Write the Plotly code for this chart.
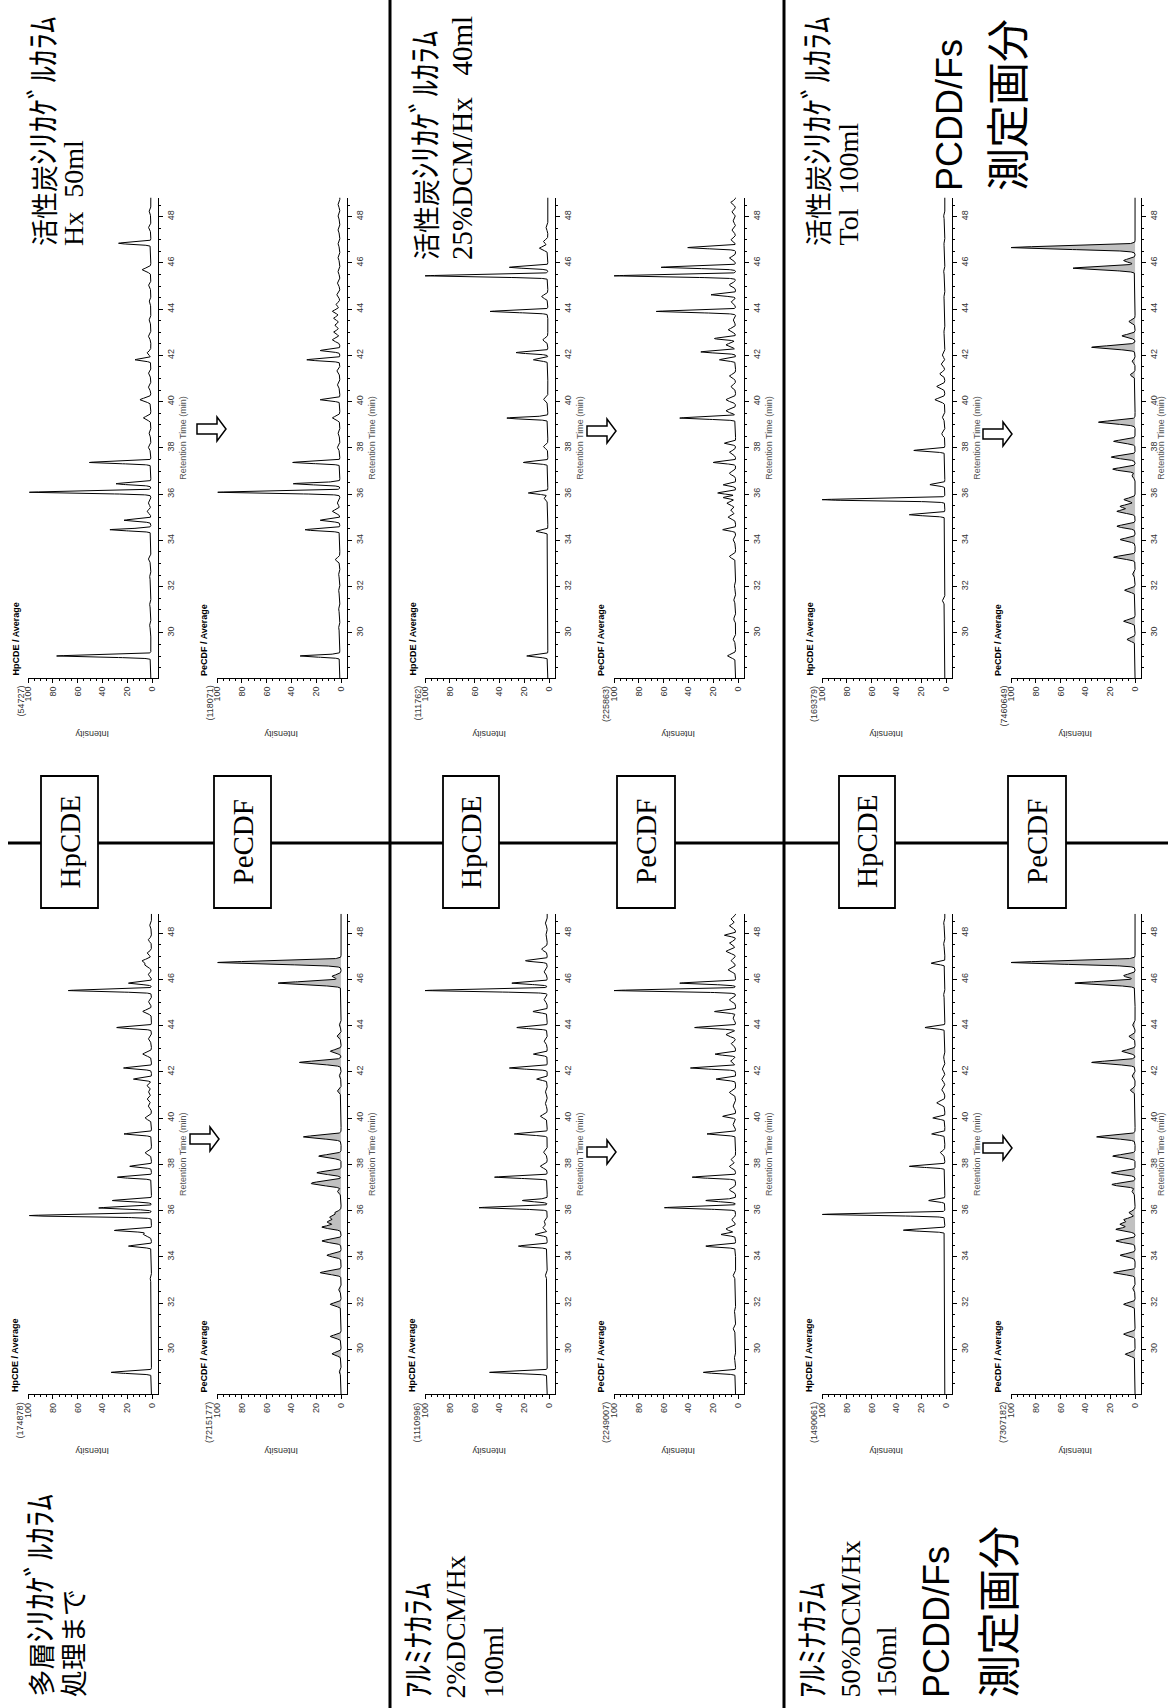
import numpy as np
import plotly.graph_objects as go

W, H = 1168, 1708

# ---------------- data ----------------
T_RANGE = [28.05, 48.83]      # retention time (min)
I_RANGE = [100, -4.8]         # relative intensity (%), reversed

# Panel A: 多層シリカゲル処理まで  HpCDE
A_T = [29.0, 33.02, 34.46, 34.96, 35.14, 35.78, 36.11, 36.43, 37.44, 37.91, 38.49, 39.31, 40.0, 40.5, 40.8,
       41.1, 41.4, 41.68, 42.16, 42.76, 43.4, 43.91, 44.6, 45.0, 45.51, 45.83, 46.2, 46.59, 46.79, 47.12, 47.7, 48.3]
A_H = [33, 1.6, 19, 7, 30, 99, 43, 32, 28, 18, 5.6, 22.6, 5.6, 3, 4,
       3, 4, 15, 23, 7.5, 3, 28.5, 7.5, 3, 67.5, 19, 3, 5.6, 8, 4, 3, 2]
# Panel B: 多層シリカゲル処理まで  PeCDF
B_T = [29.0, 29.8, 30.55, 31.94, 32.55, 33.31, 34.06, 34.68, 35.28, 35.5, 35.7, 35.9, 36.8, 37.12, 37.22,
       37.63, 38.35, 39.18, 41.15, 41.8, 42.4, 42.88, 43.52, 44.0, 45.83, 46.12, 46.72]
B_H = [1.5, 7.3, 8.7, 8.7, 2, 16.8, 11.4, 15.4, 15.4, 11, 9, 5, 3, 15, 16,
       19.5, 18, 30.4, 3, 1.5, 33.6, 8.7, 3.3, 1.5, 50.7, 7.3, 99.5]
# Panel C: アルミナ 2%DCM/Hx  HpCDE
C_T = [29.0, 30.9, 33.17, 34.46, 34.96, 35.25, 35.5, 36.12, 36.43, 37.44, 37.91, 38.5, 39.31, 40.07, 40.6,
       41.1, 41.68, 42.16, 42.76, 43.3, 43.91, 44.6, 45.1, 45.51, 45.83, 46.3, 46.8, 47.3, 47.9, 48.4]
C_H = [48, 1.5, 3, 24.7, 11.3, 5, 4, 56.5, 21.5, 44, 7, 4.5, 28, 7, 3,
       3, 10, 32, 12.6, 4, 26, 13, 4, 100, 30, 4, 19, 6, 2.5, 3]
# Panel D: アルミナ 2%DCM/Hx  PeCDF
D_T = [29.0, 29.6, 30.86, 31.6, 33.17, 34.46, 34.96, 35.2, 35.6, 36.12, 36.43, 36.9, 37.44, 37.9, 38.2,
       39.31, 39.7, 40.07, 40.5, 41.1, 41.68, 42.16, 42.45, 42.76, 43.2, 43.6, 43.91, 44.3, 44.6, 45.1,
       45.51, 45.83, 46.4, 46.8, 47.2, 47.55, 47.9, 48.3, 48.6]
D_H = [28, 3, 4, 3, 4, 26, 13.7, 9.7, 5, 59.4, 26, 7, 37, 7, 5.6,
       25, 4, 12.4, 4, 7, 17.7, 38.4, 6, 18.5, 5.6, 9.7, 35, 4, 19, 7,
       100, 47, 8, 5.6, 9.7, 7, 11, 7, 5.6]
# Panel E: アルミナ 50%DCM/Hx  HpCDE
E_T = [31.4, 35.15, 35.83, 36.43, 37.91, 38.49, 39.31, 40.0, 40.65, 41.2, 41.65, 42.1, 42.6, 43.91, 45.3,
       46.69, 47.5, 48.4]
E_H = [1.5, 34.4, 99.7, 14, 29.6, 4.8, 11.6, 10.7, 7.5, 3.5, 3.5, 3, 2, 17, 2,
       12, 2, 2]
# Panel F: アルミナ 50%DCM/Hx  PeCDF
F_T = [29.78, 30.65, 31.94, 32.6, 33.31, 34.06, 34.68, 35.18, 35.4, 35.6, 35.9, 36.8, 37.12, 37.63, 38.35,
       39.18, 41.2, 41.8, 42.4, 42.88, 43.52, 44.0, 45.83, 46.15, 46.72]
F_H = [7.9, 9.2, 9.2, 2, 17.3, 12, 15.4, 15.4, 12, 9, 5, 2.5, 18.7, 19, 18,
       31, 3.8, 2.4, 35, 10.6, 5, 2, 48.5, 9.2, 100]
# Panel G: 活性炭 Hx 50ml  HpCDE
G_T = [29.0, 30.3, 31.2, 32.4, 33.17, 34.46, 34.87, 35.25, 35.6, 36.08, 36.45, 37.37, 38.0, 38.6, 39.29,
       40.08, 40.6, 41.2, 41.81, 42.1, 42.8, 43.5, 44.3, 45.0, 45.7, 46.85, 47.5, 48.2]
G_H = [77, 2, 2, 2, 3, 34, 22.6, 4, 3, 99, 29, 50.5, 3, 2.5, 7,
       9.7, 3, 3, 13.7, 4, 3, 2.5, 2.5, 3, 8, 27, 3, 2.5]
# Panel H: 活性炭 Hx 50ml  PeCDF
H_T = [29.0, 30.2, 31.0, 31.8, 32.5, 33.17, 34.46, 34.87, 35.25, 35.6, 36.08, 36.45, 37.37, 38.0, 38.6,
       39.29, 40.08, 40.7, 41.3, 41.81, 42.21, 42.67, 43.0, 43.3, 43.6, 43.9, 44.2, 44.6, 45.1, 45.6,
       46.2, 46.8, 47.4, 48.0, 48.5]
H_H = [33, 2, 2, 2, 2, 4.6, 29, 16.8, 7, 3, 99.5, 38.5, 39, 3, 2.5,
       7, 16.8, 3, 3.5, 27.6, 16.8, 7, 6, 5, 6, 7, 4, 3.5, 3, 2.5,
       2.5, 2.5, 2.5, 2.5, 2.5]
# Panel I: 活性炭 25%DCM/Hx 40ml  HpCDE
I_T = [29.0, 34.39, 35.8, 36.05, 37.37, 38.05, 39.29, 40.08, 41.81, 42.12, 42.67, 43.9, 44.54, 45.44, 45.81,
       46.63, 46.92, 47.5]
I_H = [18, 10.5, 4, 16.7, 20.7, 4.5, 34, 4.5, 12.6, 26.6, 5, 47.6, 6, 100, 32,
       7.8, 4.5, 2.5]
# Panel J: 活性炭 25%DCM/Hx 40ml  PeCDF
J_T = [29.0, 29.7, 30.6, 31.4, 32.0, 33.3, 34.0, 34.46, 35.0, 35.3, 35.6, 35.85, 36.05, 36.4, 36.9,
       37.37, 37.8, 38.2, 39.29, 39.6, 40.08, 40.65, 41.1, 41.81, 42.15, 42.45, 42.73, 43.1, 43.5, 43.9,
       44.3, 44.62, 45.05, 45.44, 45.81, 46.2, 46.66, 47.0, 47.4, 47.8, 48.2, 48.6]
J_H = [8.5, 4, 3.5, 3.5, 3, 7, 4, 12.4, 8, 6, 9, 12, 16.4, 12, 7,
       20, 7, 11, 47, 9.7, 9.7, 5.6, 7, 15, 30, 9.7, 19, 8, 4, 66,
       5.6, 21.8, 7, 100, 62, 7, 40.6, 5.6, 5, 4, 5, 6]
# Panel K: 活性炭 Tol 100ml  HpCDE
K_T = [31.37, 35.11, 35.76, 36.41, 37.89, 38.6, 39.3, 40.08, 40.65, 41.2, 41.6, 42.0, 43.0, 44.5, 45.6,
       46.8, 48.0]
K_H = [3, 29.6, 100, 13, 26, 3.5, 3, 9, 7.5, 5, 4, 3, 1.8, 1.8, 2,
       1.8, 2]
# Panel L: 活性炭 Tol 100ml  PeCDF
L_T = [29.71, 30.5, 31.84, 32.52, 33.27, 34.03, 34.61, 35.25, 35.47, 35.76, 36.77, 37.08, 37.6, 38.28, 39.11,
       41.16, 41.74, 42.35, 42.84, 43.46, 45.77, 46.1, 46.66]
L_H = [6.5, 9.2, 8.4, 2, 17.3, 12, 14.6, 14.6, 12, 9, 2.5, 18, 19.2, 17.3, 29.5,
       3.8, 2.4, 35, 10.6, 5, 50, 9.2, 100]

# baseline level of each trace (%)
BASES = {'A': 0.5, 'B': 0.0, 'C': 1.5, 'D': 2.0, 'E': 1.0, 'F': 0.0,
         'G': 1.0, 'H': 1.0, 'I': 1.0, 'J': 2.0, 'K': 1.0, 'L': 0.0}
# full-scale counts shown beside each intensity axis
SCALES = {'A': '(174878)', 'B': '(7215177)', 'C': '(1110996)', 'D': '(2249007)',
          'E': '(1490061)', 'F': '(7307182)', 'G': '(54727)', 'H': '(118071)',
          'I': '(111762)', 'J': '(225863)', 'K': '(169379)', 'L': '(7460649)'}
PEAKS = {'A': (A_T, A_H), 'B': (B_T, B_H), 'C': (C_T, C_H), 'D': (D_T, D_H),
         'E': (E_T, E_H), 'F': (F_T, F_H), 'G': (G_T, G_H), 'H': (H_T, H_H),
         'I': (I_T, I_H), 'J': (J_T, J_H), 'K': (K_T, K_H), 'L': (L_T, L_H)}

# ---------------- layout ----------------
HP_AX = [158, 555, 952]       # x pixel of the time axis of the HpCDE panel in each column
PE_OFF = 189
ROWS = {'top': (197.5, 678.0), 'bot': (913.8, 1394.4)}
# (key, compound, row, column)
PANELS = [('A', 'HpCDE', 'bot', 0), ('B', 'PeCDF', 'bot', 0),
          ('C', 'HpCDE', 'bot', 1), ('D', 'PeCDF', 'bot', 1),
          ('E', 'HpCDE', 'bot', 2), ('F', 'PeCDF', 'bot', 2),
          ('G', 'HpCDE', 'top', 0), ('H', 'PeCDF', 'top', 0),
          ('I', 'HpCDE', 'top', 1), ('J', 'PeCDF', 'top', 1),
          ('K', 'HpCDE', 'top', 2), ('L', 'PeCDF', 'top', 2)]
FILLED = {'B', 'F', 'L'}

SANS = 'Liberation Sans, Arial, sans-serif'
SERIF = 'Liberation Serif, Times New Roman, serif'
CJK = 'Noto Sans CJK JP, sans-serif'


def fx(x):
    return x / W


def fy(y):
    return 1 - y / H


tgrid = np.arange(T_RANGE[0], T_RANGE[1] + 1e-9, 0.004)


def signal(ts, hs, base, wide):
    y = np.full_like(tgrid, base, dtype=float)
    for t0, h0 in zip(ts, hs):
        amp = max(h0 - base, 0.3)
        if wide:
            s = 0.07
        else:
            s = 0.045 if h0 >= 10 else 0.075
        y += amp * np.exp(-0.5 * ((tgrid - t0) / s) ** 2)
    return y


fig = go.Figure()
annotations = []
layout_axes = {}

for i, (key, comp, row, col) in enumerate(PANELS, 1):
    ax = HP_AX[col] + (PE_OFF if comp == 'PeCDF' else 0)
    yt, yb = ROWS[row]
    sfx = '' if i == 1 else str(i)
    ts, hs = PEAKS[key]
    filled = key in FILLED
    sig = signal(ts, hs, BASES[key], filled)
    fig.add_trace(go.Scatter(
        x=sig, y=tgrid, xaxis='x' + sfx, yaxis='y' + sfx, mode='lines',
        line=dict(color='black', width=1),
        fill='tozerox' if filled else None,
        fillcolor='rgba(140,140,140,0.55)',
        hoverinfo='skip', showlegend=False))
    layout_axes['xaxis' + sfx] = dict(
        domain=[fx(ax - 130), fx(ax)], anchor='y' + sfx, range=I_RANGE,
        showline=True, linecolor='black', linewidth=1, mirror=False,
        ticks='outside', ticklen=4, tickwidth=1, tickcolor='black',
        tickmode='linear', tick0=0, dtick=20,
        minor=dict(dtick=5, ticks='outside', ticklen=2, tickcolor='black', showgrid=False),
        tickangle=-90, tickfont=dict(family=SANS, size=9, color='#333'),
        showgrid=False, zeroline=False, fixedrange=True, automargin=False)
    layout_axes['yaxis' + sfx] = dict(
        domain=[fy(yb), fy(yt)], anchor='x' + sfx, side='right', range=T_RANGE,
        showline=True, linecolor='black', linewidth=1,
        ticks='outside', ticklen=4, tickwidth=1, tickcolor='black',
        tickmode='linear', tick0=30, dtick=2,
        minor=dict(dtick=0.5, ticks='outside', ticklen=2, tickcolor='black', showgrid=False),
        tickangle=-90, tickfont=dict(family=SANS, size=9, color='#333'),
        showgrid=False, zeroline=False, fixedrange=True, automargin=False)

    # panel texts
    annotations.append(dict(text='<b>%s / Average</b>' % comp, x=fx(ax - 143), y=fy(yb),
                            xanchor='center', yanchor='bottom', textangle=-90,
                            font=dict(family=SANS, size=9, color='black')))
    annotations.append(dict(text=SCALES[key], x=fx(ax - 138), y=fy(yb + 6),
                            xanchor='center', yanchor='top', textangle=-90,
                            font=dict(family=SANS, size=9, color='#333')))
    annotations.append(dict(text='Intensity', x=fx(ax - 66), y=fy(yb + 56),
                            xanchor='center', yanchor='middle', textangle=180,
                            font=dict(family=SANS, size=9, color='#333')))
    annotations.append(dict(text='Retention Time (min)', x=fx(min(ax + 25, W - 7)), y=fy((yt + yb) / 2),
                            xanchor='center', yanchor='middle', textangle=-90,
                            font=dict(family=SANS, size=9, color='#555')))

for a in annotations:
    a.update(xref='paper', yref='paper', showarrow=False)

# ---------------- frame lines, boxes, arrows ----------------
shapes = []
for xv in (390, 784):
    shapes.append(dict(type='line', xref='paper', yref='paper', x0=fx(xv), x1=fx(xv),
                       y0=0, y1=1, line=dict(color='black', width=3)))
shapes.append(dict(type='line', xref='paper', yref='paper', x0=fx(8), x1=1,
                   y0=fy(843), y1=fy(843), line=dict(color='black', width=3)))

BOXES = [(41, 98, 'HpCDE'), (214, 271, 'PeCDF'), (443, 499, 'HpCDE'),
         (617, 675, 'PeCDF'), (839, 895, 'HpCDE'), (1008, 1066, 'PeCDF')]
for x0, x1, label in BOXES:
    shapes.append(dict(type='rect', xref='paper', yref='paper', x0=fx(x0), x1=fx(x1),
                       y0=fy(908), y1=fy(776), fillcolor='white',
                       line=dict(color='black', width=1.8)))
    annotations.append(dict(text=label, x=fx((x0 + x1) / 2), y=fy(842), xref='paper', yref='paper',
                            xanchor='center', yanchor='middle', textangle=-90, showarrow=False,
                            font=dict(family=SERIF, size=29, color='black')))

ARROWS = [(197, 429), (190, 1139), (587, 431), (587, 1152), (983, 434), (983, 1148)]
for x0, yc in ARROWS:
    pts = [(x0, yc - 5), (x0 + 20, yc - 5), (x0 + 20, yc - 12), (x0 + 29, yc),
           (x0 + 20, yc + 12), (x0 + 20, yc + 5), (x0, yc + 5)]
    path = 'M ' + ' L '.join('%.5f,%.5f' % (fx(px), fy(py)) for px, py in pts) + ' Z'
    shapes.append(dict(type='path', xref='paper', yref='paper', path=path,
                       fillcolor='white', line=dict(color='black', width=1.5)))

# ---------------- column captions ----------------
KATA = '<span style="font-size:33px">%s</span>'
CAPTIONS = [
    ('活性炭' + KATA % 'ｼﾘｶｹﾞﾙｶﾗﾑ', 41, 248, CJK, 27),
    ('Hx\u00a0\u00a050ml', 74, 248, SERIF, 28),
    ('活性炭' + KATA % 'ｼﾘｶｹﾞﾙｶﾗﾑ', 423, 262, CJK, 27),
    ('25%DCM/Hx\u00a0\u00a0\u00a040ml', 462, 262, SERIF, 29),
    ('活性炭' + KATA % 'ｼﾘｶｹﾞﾙｶﾗﾑ', 815, 248, CJK, 27),
    ('Tol\u00a0\u00a0100ml', 848, 248, SERIF, 28),
    ('PCDD/Fs', 950, 193, SANS, 36),
    ('測定画分', 1005, 193, CJK, 43),
    ('多層' + KATA % 'ｼﾘｶｹﾞﾙｶﾗﾑ', 37, 1699, CJK, 27),
    ('処理まで', 72, 1699, CJK, 27),
    (KATA % 'ｱﾙﾐﾅｶﾗﾑ', 416, 1700, CJK, 27),
    ('2%DCM/Hx', 455, 1700, SERIF, 28),
    ('100ml', 493, 1700, SERIF, 28),
    (KATA % 'ｱﾙﾐﾅｶﾗﾑ', 810, 1700, CJK, 27),
    ('50%DCM/Hx', 850, 1700, SERIF, 28),
    ('150ml', 886, 1700, SERIF, 28),
    ('PCDD/Fs', 936, 1700, SANS, 36),
    ('測定画分', 996, 1700, CJK, 43),
]
for text, xc, yb, fam, size in CAPTIONS:
    annotations.append(dict(text=text, x=fx(xc), y=fy(yb), xref='paper', yref='paper',
                            xanchor='center', yanchor='bottom', textangle=-90, showarrow=False,
                            font=dict(family=fam, size=size, color='black')))

fig.update_layout(
    width=W, height=H, margin=dict(l=0, r=0, t=0, b=0),
    paper_bgcolor='white', plot_bgcolor='white',
    showlegend=False, annotations=annotations, shapes=shapes,
    **layout_axes)

fig.write_html('out.html', config={'displayModeBar': False})
